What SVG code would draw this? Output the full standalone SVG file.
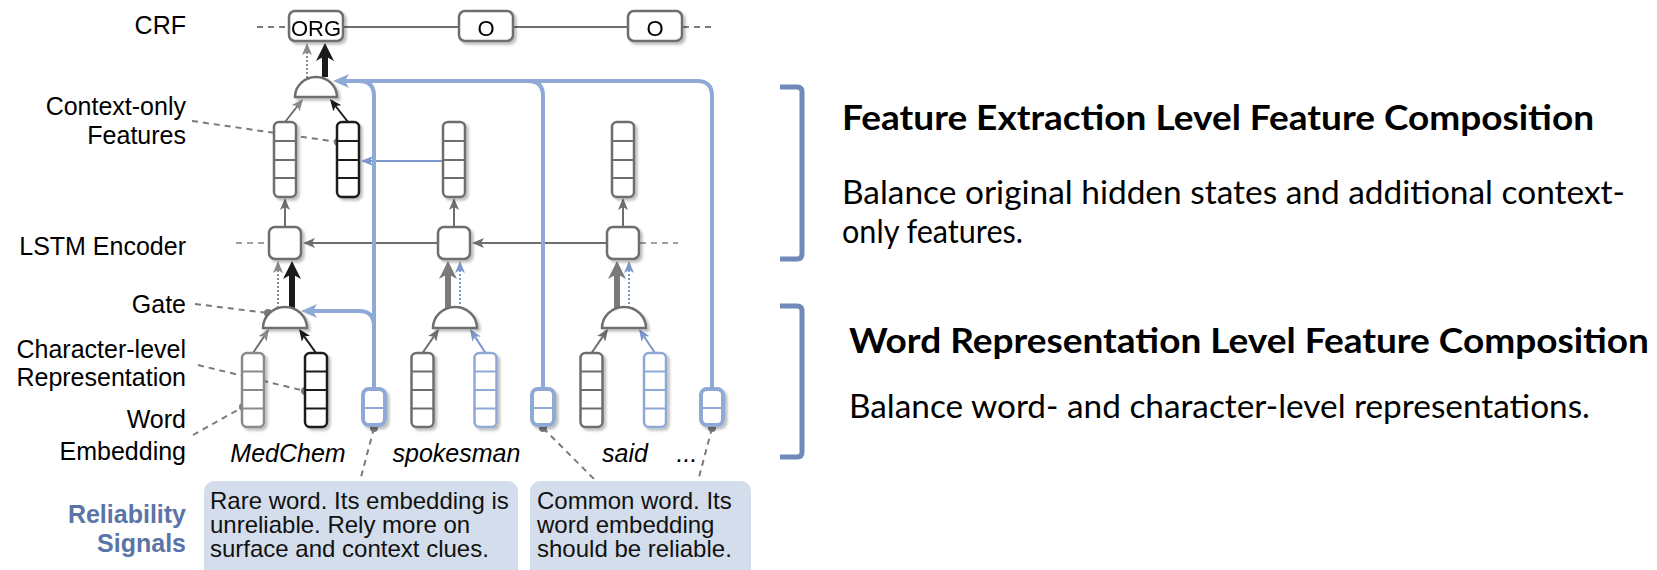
<svg xmlns="http://www.w3.org/2000/svg" width="1657" height="570" viewBox="0 0 1657 570">
  <style>
    .lbl { font-family: "Liberation Sans", Arial, sans-serif; font-size: 25px; fill: #000; text-anchor: end; }
    .sig { font-family: "Liberation Sans", Arial, sans-serif; font-size: 25px; font-weight: bold; fill: #5b74a8; text-anchor: end; }
    .word { font-family: "Liberation Sans", Arial, sans-serif; font-size: 25px; font-style: italic; fill: #000; text-anchor: middle; }
    .tag { font-family: "Liberation Sans", Arial, sans-serif; font-size: 22px; fill: #000; text-anchor: middle; }
    .note { font-family: "Liberation Sans", Arial, sans-serif; font-size: 24px; fill: #111; }
    .title { font-family: Lato, "Open Sans", sans-serif; font-size: 35px; font-weight: bold; fill: #000; }
    .body { font-family: Lato, "Open Sans", sans-serif; font-size: 33px; fill: #000; }
    .box { fill: #fff; stroke: #6e6e6e; stroke-width: 2.5; }
    .colG { fill: #fff; stroke: #6e6e6e; stroke-width: 2.5; }
    .colL { fill: #fff; stroke: #8a8a8a; stroke-width: 2.5; }
    .colK { fill: #fff; stroke: #1a1a1a; stroke-width: 2.5; }
    .colB { fill: #fff; stroke: #8fa9d6; stroke-width: 2.5; }
    .small { fill: #fff; stroke: #8fa9d6; stroke-width: 4; }
    .gate { fill: #fff; stroke: #6e6e6e; stroke-width: 2.5; }
    .cell { stroke-width: 2; }
    .link { fill: none; stroke: #6e6e6e; stroke-width: 2; }
    .dash { fill: none; stroke: #7a7a7a; stroke-width: 2; stroke-dasharray: 6 5; }
    .dashL { fill: none; stroke: #a0a0a0; stroke-width: 2; stroke-dasharray: 6 5; }
    .dot { fill: #7a7a7a; }
    .blue { fill: none; stroke: #8fa9d6; stroke-width: 4; }
    .bracket { fill: none; stroke: #6f89b8; stroke-width: 5; stroke-linecap: butt; }
    .callout { fill: #d4ddeb; }
  </style>
  <defs>
    <filter id="shadow" x="-30%" y="-30%" width="160%" height="160%">
      <feDropShadow dx="2.5" dy="2.5" stdDeviation="1" flood-color="#000" flood-opacity="0.25"/>
    </filter>
    <marker id="ag" viewBox="0 0 12 10" markerWidth="12" markerHeight="10" refX="3" refY="5" orient="auto" markerUnits="userSpaceOnUse">
      <path d="M0,0 L12,5 L0,10 L3,5 z" fill="#6e6e6e"/>
    </marker>
    <marker id="ag2" viewBox="0 0 12 10" markerWidth="12" markerHeight="10" refX="3" refY="5" orient="auto" markerUnits="userSpaceOnUse">
      <path d="M0,0 L12,5 L0,10 L3,5 z" fill="#8a8a8a"/>
    </marker>
    <marker id="ak" viewBox="0 0 12 10" markerWidth="12" markerHeight="10" refX="3" refY="5" orient="auto" markerUnits="userSpaceOnUse">
      <path d="M0,0 L12,5 L0,10 L3,5 z" fill="#1a1a1a"/>
    </marker>
    <marker id="ab" viewBox="0 0 12 10" markerWidth="12" markerHeight="10" refX="3" refY="5" orient="auto" markerUnits="userSpaceOnUse">
      <path d="M0,0 L12,5 L0,10 L3,5 z" fill="#7b97cc"/>
    </marker>
    <marker id="aB" viewBox="0 0 16 14" markerWidth="16" markerHeight="14" refX="4" refY="7" orient="auto" markerUnits="userSpaceOnUse">
      <path d="M0,0 L16,7 L0,14 L4,7 z" fill="#8fa9d6"/>
    </marker>
    <marker id="aK" viewBox="0 0 18 18" markerWidth="18" markerHeight="18" refX="5" refY="9" orient="auto" markerUnits="userSpaceOnUse">
      <path d="M0,0 L18,9 L0,18 L5,9 z" fill="#1a1a1a"/>
    </marker>
    <marker id="aG" viewBox="0 0 18 18" markerWidth="18" markerHeight="18" refX="5" refY="9" orient="auto" markerUnits="userSpaceOnUse">
      <path d="M0,0 L18,9 L0,18 L5,9 z" fill="#7a7a7a"/>
    </marker>
  </defs>

  <!-- row labels -->
  <g id="labels">
    <text class="lbl" x="186" y="34">CRF</text>
    <text class="lbl" x="186" y="115">Context-only</text>
    <text class="lbl" x="186" y="144">Features</text>
    <text class="lbl" x="186" y="255">LSTM Encoder</text>
    <text class="lbl" x="186" y="313">Gate</text>
    <text class="lbl" x="186" y="358">Character-level</text>
    <text class="lbl" x="186" y="386">Representation</text>
    <text class="lbl" x="186" y="428">Word</text>
    <text class="lbl" x="186" y="460">Embedding</text>
    <text class="sig" x="186" y="523">Reliability</text>
    <text class="sig" x="186" y="552">Signals</text>
  </g>

  <!-- connectors -->
  <g id="connectors">
    <!-- CRF chain -->
    <path class="dash" d="M257 27 H289"/>
    <path class="link" d="M343 27 H459 M513 27 H628"/>
    <path class="dash" d="M683 27 H714"/>
    <!-- LSTM chain -->
    <path class="dashL" d="M236 243 H269"/>
    <path class="dashL" d="M640 243 H678"/>
    <path class="link" marker-end="url(#ag)" d="M607 243 H481"/>
    <path class="link" marker-end="url(#ag)" d="M438 243 H312"/>
    <!-- LSTM to context column -->
    <path class="link" marker-end="url(#ag)" d="M285 227 V207"/>
    <path class="link" marker-end="url(#ag)" d="M454 227 V207"/>
    <path class="link" marker-end="url(#ag)" d="M623 227 V207"/>
    <!-- features to upper gate -->
    <path class="link" stroke="#808080" marker-end="url(#ag2)" d="M285 122 L297.5 106"/>
    <path class="link" style="stroke:#1a1a1a" marker-end="url(#ak)" d="M348 122 L335.5 106"/>
    <!-- upper gate to CRF -->
    <path class="link" style="stroke:#8a8a8a;stroke-dasharray:2 2" marker-end="url(#ag2)" d="M307 78 V52"/>
    <path fill="none" stroke="#1a1a1a" stroke-width="6" marker-end="url(#aK)" d="M325 77 V56"/>
    <!-- word-level gates to LSTM -->
    <path class="link" style="stroke:#8a8a8a;stroke-dasharray:2 2" marker-end="url(#ag2)" d="M278 308 V270"/>
    <path fill="none" stroke="#1a1a1a" stroke-width="6" marker-end="url(#aK)" d="M292 308 V274"/>
    <path fill="none" stroke="#7a7a7a" stroke-width="6" marker-end="url(#aG)" d="M448 308 V274"/>
    <path class="link" style="stroke:#7b97cc;stroke-dasharray:2 2" marker-end="url(#ab)" d="M460 308 V270"/>
    <path fill="none" stroke="#7a7a7a" stroke-width="6" marker-end="url(#aG)" d="M617 308 V274"/>
    <path class="link" style="stroke:#7b97cc;stroke-dasharray:2 2" marker-end="url(#ab)" d="M629 308 V270"/>
    <!-- columns to word-level gates -->
    <path class="link" stroke="#808080" marker-end="url(#ag2)" d="M253 353 L264 336.5"/>
    <path class="link" style="stroke:#1a1a1a" marker-end="url(#ak)" d="M316 353 L304.2 336.3"/>
    <path class="link" marker-end="url(#ag)" d="M422.5 353 L433.9 336.4"/>
    <path class="link" style="stroke:#7b97cc" marker-end="url(#ab)" d="M485.5 353 L474.9 336.6"/>
    <path class="link" marker-end="url(#ag)" d="M591.5 353 L602.9 336.4"/>
    <path class="link" style="stroke:#7b97cc" marker-end="url(#ab)" d="M655 353 L644 336.5"/>
    <!-- context feature passing -->
    <path class="link" style="stroke:#7b97cc" marker-end="url(#ab)" d="M443 161 H370"/>
    <!-- reliability signal routing -->
    <path class="blue" d="M374 387 V96 Q374 81 359 81"/>
    <path class="blue" d="M543 387 V96 Q543 81 528 81"/>
    <path class="blue" marker-end="url(#aB)" d="M712 387 V96 Q712 81 697 81 H345"/>
    <path class="blue" marker-end="url(#aB)" d="M374 326 Q374 311 359 311 H313"/>
    <!-- leader lines -->
    <path class="dash" d="M192 121 L338 142"/>
    <path class="dash" d="M195 304 L268 313"/>
    <path class="dash" d="M198 365 L305 391"/>
    <path class="dash" d="M193 435 L243 407"/>
    <path class="dash" d="M374 428 L360 481"/>
    <path class="dash" d="M543 428 L596 481"/>
    <path class="dash" d="M712 428 L698 481"/>
    <circle class="dot" cx="338" cy="142" r="4"/>
    <circle class="dot" cx="268" cy="313" r="4"/>
    <circle class="dot" cx="305" cy="391" r="4"/>
    <circle class="dot" cx="243" cy="407" r="4"/>
    <circle class="dot" cx="374" cy="428" r="4"/>
    <circle class="dot" cx="543" cy="428" r="4"/>
    <circle class="dot" cx="712" cy="428" r="4"/>
  </g>

  <!-- CRF tags -->
  <g id="crf-org" filter="url(#shadow)">
    <rect class="box" x="289" y="11" width="54" height="30" rx="6"/>
    <text class="tag" x="316" y="36">ORG</text>
  </g>
  <g id="crf-o1" filter="url(#shadow)">
    <rect class="box" x="459" y="11" width="54" height="30" rx="6"/>
    <text class="tag" x="486" y="36">O</text>
  </g>
  <g id="crf-o2" filter="url(#shadow)">
    <rect class="box" x="628" y="11" width="54" height="30" rx="6"/>
    <text class="tag" x="655" y="36">O</text>
  </g>

  <!-- feature extraction gate -->
  <g id="gate-top" filter="url(#shadow)">
    <path class="gate" d="M295 97 H337 A21 20 0 0 0 295 97 Z"/>
  </g>

  <!-- context-only feature columns -->
  <g id="ctx-1" filter="url(#shadow)">
    <rect class="colG" x="274" y="122" width="22" height="75" rx="5"/>
    <path class="cell" stroke="#6e6e6e" d="M274 141 H296 M274 160 H296 M274 178 H296"/>
  </g>
  <g id="ctx-1b" filter="url(#shadow)">
    <rect class="colK" x="337" y="122" width="22" height="75" rx="5"/>
    <path class="cell" stroke="#1a1a1a" d="M337 141 H359 M337 160 H359 M337 178 H359"/>
  </g>
  <g id="ctx-2" filter="url(#shadow)">
    <rect class="colG" x="443" y="122" width="22" height="75" rx="5"/>
    <path class="cell" stroke="#6e6e6e" d="M443 141 H465 M443 160 H465 M443 178 H465"/>
  </g>
  <g id="ctx-3" filter="url(#shadow)">
    <rect class="colG" x="612" y="122" width="22" height="75" rx="5"/>
    <path class="cell" stroke="#6e6e6e" d="M612 141 H634 M612 160 H634 M612 178 H634"/>
  </g>

  <!-- LSTM cells -->
  <g id="lstm-1" filter="url(#shadow)"><rect class="box" x="269" y="227" width="32" height="32" rx="6"/></g>
  <g id="lstm-2" filter="url(#shadow)"><rect class="box" x="438" y="227" width="32" height="32" rx="6"/></g>
  <g id="lstm-3" filter="url(#shadow)"><rect class="box" x="607" y="227" width="32" height="32" rx="6"/></g>

  <!-- word representation gates -->
  <g id="gate-1" filter="url(#shadow)"><path class="gate" d="M263 328 H307 A22 21 0 0 0 263 328 Z"/></g>
  <g id="gate-2" filter="url(#shadow)"><path class="gate" d="M433 328 H477 A22 21 0 0 0 433 328 Z"/></g>
  <g id="gate-3" filter="url(#shadow)"><path class="gate" d="M602 328 H646 A22 21 0 0 0 602 328 Z"/></g>

  <!-- word embeddings and character-level representations -->
  <g id="we-1" filter="url(#shadow)">
    <rect class="colL" x="242" y="353" width="22" height="74" rx="5"/>
    <path class="cell" stroke="#8a8a8a" d="M242 371.5 H264 M242 390 H264 M242 408.5 H264"/>
  </g>
  <g id="cr-1" filter="url(#shadow)">
    <rect class="colK" x="305" y="353" width="22" height="74" rx="5"/>
    <path class="cell" stroke="#1a1a1a" d="M305 371.5 H327 M305 390 H327 M305 408.5 H327"/>
  </g>
  <g id="we-2" filter="url(#shadow)">
    <rect class="colG" x="411.5" y="353" width="22" height="74" rx="5"/>
    <path class="cell" stroke="#6e6e6e" d="M411.5 371.5 H433.5 M411.5 390 H433.5 M411.5 408.5 H433.5"/>
  </g>
  <g id="cr-2" filter="url(#shadow)">
    <rect class="colB" x="474.5" y="353" width="22" height="74" rx="5"/>
    <path class="cell" stroke="#8fa9d6" d="M474.5 371.5 H496.5 M474.5 390 H496.5 M474.5 408.5 H496.5"/>
  </g>
  <g id="we-3" filter="url(#shadow)">
    <rect class="colG" x="580.5" y="353" width="22" height="74" rx="5"/>
    <path class="cell" stroke="#6e6e6e" d="M580.5 371.5 H602.5 M580.5 390 H602.5 M580.5 408.5 H602.5"/>
  </g>
  <g id="cr-3" filter="url(#shadow)">
    <rect class="colB" x="644" y="353" width="22" height="74" rx="5"/>
    <path class="cell" stroke="#8fa9d6" d="M644 371.5 H666 M644 390 H666 M644 408.5 H666"/>
  </g>

  <!-- reliability signal cells -->
  <g id="sig-1" filter="url(#shadow)">
    <rect class="small" x="363" y="389" width="22" height="36" rx="6"/>
    <path class="cell" stroke="#8fa9d6" d="M363 408 H385"/>
  </g>
  <g id="sig-2" filter="url(#shadow)">
    <rect class="small" x="532" y="389" width="22" height="36" rx="6"/>
    <path class="cell" stroke="#8fa9d6" d="M532 408 H554"/>
  </g>
  <g id="sig-3" filter="url(#shadow)">
    <rect class="small" x="701" y="389" width="22" height="36" rx="6"/>
    <path class="cell" stroke="#8fa9d6" d="M701 408 H723"/>
  </g>

  <!-- input tokens -->
  <g id="tokens">
    <text class="word" x="288" y="462">MedChem</text>
    <text class="word" x="456.5" y="462">spokesman</text>
    <text class="word" x="625" y="462">said</text>
    <text class="word" x="687" y="462">...</text>
  </g>

  <!-- reliability notes -->
  <g id="note-rare">
    <rect class="callout" x="204" y="481" width="314" height="100" rx="10"/>
    <text class="note" x="210" y="509">Rare word. Its embedding is</text>
    <text class="note" x="210" y="533">unreliable. Rely more on</text>
    <text class="note" x="210" y="557">surface and context clues.</text>
  </g>
  <g id="note-common">
    <rect class="callout" x="530" y="481" width="221" height="100" rx="10"/>
    <text class="note" x="537" y="509">Common word. Its</text>
    <text class="note" x="537" y="533">word embedding</text>
    <text class="note" x="537" y="557">should be reliable.</text>
  </g>

  <!-- composition levels -->
  <g id="level-feature">
    <path class="bracket" d="M780 87 H797 Q802 87 802 92 V254 Q802 259 797 259 H780"/>
    <text class="title" x="842" y="130" textLength="752" lengthAdjust="spacingAndGlyphs">Feature Extraction Level Feature Composition</text>
    <text class="body" x="842" y="204" textLength="783" lengthAdjust="spacingAndGlyphs">Balance original hidden states and additional context-</text>
    <text class="body" x="842" y="243" textLength="181" lengthAdjust="spacingAndGlyphs">only features.</text>
  </g>
  <g id="level-word">
    <path class="bracket" d="M780 306 H797 Q802 306 802 311 V452 Q802 457 797 457 H780"/>
    <text class="title" x="849" y="353" textLength="800" lengthAdjust="spacingAndGlyphs">Word Representation Level Feature Composition</text>
    <text class="body" x="849" y="418" textLength="741" lengthAdjust="spacingAndGlyphs">Balance word- and character-level representations.</text>
  </g>
</svg>
